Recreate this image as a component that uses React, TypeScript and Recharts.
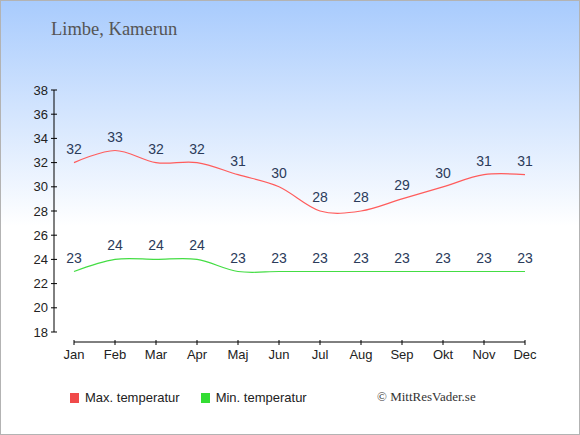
import { LineChart, Line, XAxis, YAxis, LabelList } from 'recharts';

const months = ['Jan', 'Feb', 'Mar', 'Apr', 'Maj', 'Jun', 'Jul', 'Aug', 'Sep', 'Okt', 'Nov', 'Dec'];
const maxTemp = [32, 33, 32, 32, 31, 30, 28, 28, 29, 30, 31, 31];
const minTemp = [23, 24, 24, 24, 23, 23, 23, 23, 23, 23, 23, 23];
const yTicks = [18, 20, 22, 24, 26, 28, 30, 32, 34, 36, 38];
const seriesNames = ['Max. temperatur', 'Min. temperatur'];

const MAX_COLOR = '#ff5c5c';
const MIN_COLOR = '#44dd44';
const LABEL_COLOR = '#2b3b5a';
const FONT = '"Liberation Sans", Arial, sans-serif';
const SERIF = '"Liberation Serif", "Times New Roman", serif';

const data = months.map((month, i) => ({ month, max: maxTemp[i], min: minTemp[i] }));

// cardinal spline (tension 0), same maths as d3's curveCardinal
function cardinalPoint(that: any, x: number, y: number) {
  that._context.bezierCurveTo(
    that._x1 + that._k * (that._x2 - that._x0),
    that._y1 + that._k * (that._y2 - that._y0),
    that._x2 + that._k * (that._x1 - x),
    that._y2 + that._k * (that._y1 - y),
    that._x2,
    that._y2
  );
}

function cardinal(context: any) {
  return {
    _context: context,
    _k: 1 / 6,
    _line: undefined as any,
    _point: 0,
    _x0: NaN, _x1: NaN, _x2: NaN, _y0: NaN, _y1: NaN, _y2: NaN,
    areaStart() { this._line = 0; },
    areaEnd() { this._line = NaN; },
    lineStart() {
      this._x0 = this._x1 = this._x2 = this._y0 = this._y1 = this._y2 = NaN;
      this._point = 0;
    },
    lineEnd() {
      switch (this._point) {
        case 2: this._context.lineTo(this._x2, this._y2); break;
        case 3: cardinalPoint(this, this._x1, this._y1); break;
      }
      if (this._line || (this._line !== 0 && this._point === 1)) this._context.closePath();
      this._line = 1 - this._line;
    },
    point(x: number, y: number) {
      x = +x; y = +y;
      switch (this._point) {
        case 0:
          this._point = 1;
          this._line ? this._context.lineTo(x, y) : this._context.moveTo(x, y);
          break;
        case 1:
          this._point = 2;
          this._x1 = x; this._y1 = y;
          break;
        case 2:
          this._point = 3;
          cardinalPoint(this, x, y);
          break;
        default:
          cardinalPoint(this, x, y);
          break;
      }
      this._x0 = this._x1; this._x1 = this._x2; this._x2 = x;
      this._y0 = this._y1; this._y1 = this._y2; this._y2 = y;
    },
  };
}

function YTick(props: any) {
  const { x, y, payload } = props;
  const axisX = x + 6;
  return (
    <g>
      <line x1={axisX - 3} x2={axisX + 3} y1={y} y2={y} stroke="#000" />
      <text x={x} y={y} dy="0.355em" textAnchor="end" fontSize={13} fontFamily={FONT} fill="#222">
        {payload.value}
      </text>
    </g>
  );
}

function XTick(props: any) {
  const { x, y, payload } = props;
  const axisY = y - 8;
  return (
    <g>
      <line x1={x} x2={x} y1={axisY - 2} y2={axisY + 3} stroke="#000" />
      <text x={x} y={y} dy="0.71em" textAnchor="middle" fontSize={13} fontFamily={FONT} fill="#222">
        {payload.value}
      </text>
    </g>
  );
}

function LegendBox() {
  const colors = ['#f04a4a', '#33dd33'];
  return (
    <div style={{ position: 'absolute', left: 70, top: 390, display: 'flex', alignItems: 'center' }}>
      {seriesNames.map((label, i) => (
        <div key={label} style={{ display: 'flex', alignItems: 'center', marginRight: 21 }}>
          <span style={{ width: 9, height: 10, background: colors[i], marginRight: 6, display: 'inline-block' }} />
          <span style={{ fontFamily: FONT, fontSize: 13, color: '#222' }}>{label}</span>
        </div>
      ))}
    </div>
  );
}

export default function App() {
  return (
    <div
      style={{
        position: 'fixed',
        left: 0,
        top: 0,
        width: 580,
        height: 435,
        background: 'linear-gradient(to bottom, #a8cbfd 0%, #ffffff 52%, #ffffff 100%)',
      }}
    >
      <div
        style={{
          position: 'absolute',
          left: 51,
          top: 19,
          fontFamily: SERIF,
          fontSize: 18.5,
          color: '#555',
          whiteSpace: 'nowrap',
        }}
      >
        Limbe, Kamerun
      </div>
      <LineChart width={580} height={435} data={data} margin={{ top: 90, right: 55, left: 14, bottom: 63 }}>
        <XAxis
          dataKey="month"
          height={30}
          padding={{ left: 20, right: 0 }}
          axisLine={{ stroke: '#000', strokeDasharray: '0 20 451 40' }}
          tickLine={false}
          tickSize={2}
          tickMargin={6}
          tick={<XTick />}
          interval={0}
        />
        <YAxis
          width={40}
          domain={[18, 38]}
          ticks={yTicks}
          padding={{ top: 0, bottom: 10 }}
          axisLine={{ stroke: '#000', strokeDasharray: '242 40' }}
          tickLine={false}
          tickSize={3}
          tickMargin={3}
          tick={<YTick />}
          interval={0}
        />
        <Line
          dataKey="max"
          name={seriesNames[0]}
          type={cardinal as any}
          stroke={MAX_COLOR}
          strokeWidth={1.2}
          dot={false}
          activeDot={false}
          isAnimationActive={false}
        >
          <LabelList dataKey="max" position="top" offset={9} fontSize={14} fontFamily={FONT} fill={LABEL_COLOR} />
        </Line>
        <Line
          dataKey="min"
          name={seriesNames[1]}
          type={cardinal as any}
          stroke={MIN_COLOR}
          strokeWidth={1.2}
          dot={false}
          activeDot={false}
          isAnimationActive={false}
        >
          <LabelList dataKey="min" position="top" offset={9} fontSize={14} fontFamily={FONT} fill={LABEL_COLOR} />
        </Line>
      </LineChart>
      <LegendBox />
      <div
        style={{
          position: 'absolute',
          left: 377,
          top: 389,
          fontFamily: SERIF,
          fontSize: 13,
          color: '#333',
          whiteSpace: 'nowrap',
        }}
      >
        © MittResVader.se
      </div>
      <div
        style={{
          position: 'absolute',
          inset: 0,
          border: '1px solid #b3b3b3',
          pointerEvents: 'none',
        }}
      />
    </div>
  );
}
